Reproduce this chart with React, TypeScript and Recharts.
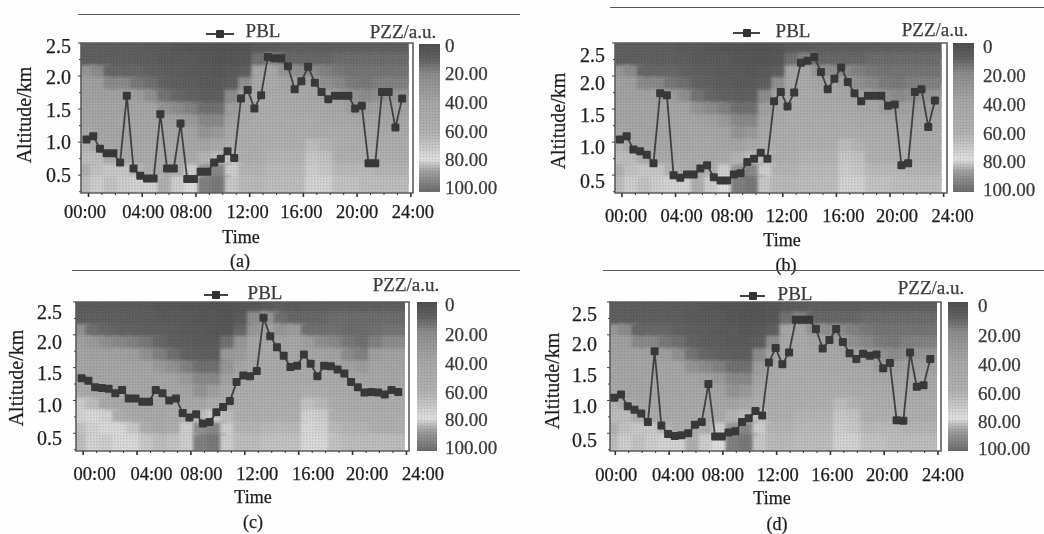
import { ComposedChart, Line, ReferenceArea, XAxis, YAxis } from "recharts";

const HOURS = [
  0, 0.5, 1, 1.5, 2, 2.5, 3, 3.5, 4, 4.5, 5, 5.5, 6, 6.5, 7, 7.5, 8, 8.5, 9, 9.5, 10, 10.5, 11, 11.5,
  12, 12.5, 13, 13.5, 14, 14.5, 15, 15.5, 16, 16.5, 17, 17.5, 18, 18.5, 19, 19.5, 20, 20.5, 21, 21.5, 22, 22.5, 23, 23.5,
];

const PBL_A = [
  1.04, 1.09, 0.9, 0.83, 0.83, 0.69, 1.7, 0.6, 0.49, 0.45, 0.45, 1.42, 0.6, 0.6, 1.28, 0.44, 0.44, 0.55, 0.55, 0.69, 0.75, 0.86, 0.76, 1.66,
  1.79, 1.51, 1.71, 2.29, 2.27, 2.27, 2.15, 1.8, 1.92, 2.14, 1.9, 1.76, 1.65, 1.7, 1.7, 1.7, 1.51, 1.55, 0.68, 0.68, 1.76, 1.76, 1.22, 1.66,
];
const PBL_B = [
  1.04, 1.09, 0.89, 0.86, 0.81, 0.68, 1.74, 1.71, 0.5, 0.46, 0.51, 0.51, 0.6, 0.65, 0.47, 0.42, 0.42, 0.51, 0.53, 0.7, 0.75, 0.84, 0.75, 1.62,
  1.76, 1.54, 1.75, 2.2, 2.23, 2.29, 2.06, 1.8, 1.96, 2.13, 1.91, 1.74, 1.62, 1.7, 1.7, 1.7, 1.55, 1.57, 0.65, 0.68, 1.76, 1.8, 1.23, 1.63,
];
const PBL_C = [
  1.34, 1.3, 1.2, 1.19, 1.18, 1.11, 1.16, 1.03, 1.03, 0.98, 0.98, 1.16, 1.11, 1.0, 1.03, 0.81, 0.74, 0.79, 0.65, 0.67, 0.82, 0.9, 0.99, 1.28,
  1.38, 1.37, 1.45, 2.26, 1.98, 1.81, 1.68, 1.51, 1.53, 1.7, 1.56, 1.37, 1.53, 1.52, 1.47, 1.41, 1.28, 1.2, 1.12, 1.13, 1.12, 1.09, 1.16, 1.13,
];
const PBL_D = [
  1.04, 1.09, 0.91, 0.86, 0.8, 0.67, 1.75, 0.62, 0.49, 0.46, 0.47, 0.5, 0.63, 0.67, 1.25, 0.45, 0.45, 0.51, 0.53, 0.67, 0.73, 0.84, 0.77, 1.58,
  1.8, 1.55, 1.73, 2.23, 2.23, 2.23, 2.09, 1.79, 1.92, 2.09, 1.89, 1.72, 1.63, 1.71, 1.68, 1.7, 1.49, 1.57, 0.7, 0.69, 1.73, 1.21, 1.23, 1.63,
];

// altitude edges of the heat rows, top row first
const ROW_EDGES = [2.5, 2.31, 2.12, 1.94, 1.75, 1.56, 1.37, 1.19, 1.0, 0.81, 0.62, 0.44, 0.23];

// PZZ values, one row per altitude band, one column per hour. a, b and d share the same field
const PZZ_ABD = [
  [9, 9, 9, 9, 9, 8, 7, 6, 5, 5, 4, 4, 5, 7, 8, 9, 9, 9, 9, 10, 10, 10, 10, 10],
  [10, 10, 10, 10, 10, 9, 8, 7, 7, 6, 5, 5, 6, 14, 18, 12, 12, 12, 12, 13, 13, 13, 13, 13],
  [30, 22, 12, 12, 12, 11, 10, 9, 8, 7, 6, 7, 10, 42, 45, 28, 24, 22, 18, 16, 15, 15, 15, 15],
  [38, 36, 20, 20, 16, 14, 11, 10, 9, 8, 7, 10, 24, 48, 50, 42, 40, 38, 26, 20, 17, 16, 18, 18],
  [38, 38, 38, 38, 36, 24, 15, 12, 11, 10, 10, 22, 40, 52, 52, 50, 48, 46, 40, 36, 28, 22, 26, 30],
  [40, 40, 40, 40, 40, 40, 28, 22, 18, 14, 14, 36, 46, 54, 54, 52, 52, 50, 48, 45, 36, 36, 38, 38],
  [42, 40, 40, 42, 42, 42, 40, 38, 32, 20, 20, 42, 50, 55, 56, 55, 55, 55, 52, 50, 48, 44, 44, 44],
  [48, 42, 42, 42, 44, 44, 44, 44, 40, 28, 32, 50, 55, 56, 58, 58, 58, 58, 56, 55, 54, 50, 50, 50],
  [62, 50, 46, 46, 46, 48, 48, 48, 44, 40, 50, 60, 56, 58, 60, 60, 60, 66, 62, 58, 56, 56, 56, 56],
  [66, 66, 58, 50, 50, 52, 52, 50, 52, 62, 66, 68, 58, 60, 62, 62, 62, 70, 68, 60, 60, 60, 60, 58],
  [60, 68, 70, 70, 62, 58, 52, 60, 72, 88, 92, 72, 62, 62, 64, 64, 64, 72, 70, 64, 64, 64, 62, 62],
  [66, 72, 68, 72, 74, 74, 60, 72, 78, 94, 96, 70, 64, 64, 66, 66, 66, 74, 74, 68, 68, 66, 66, 66],
];
const PZZ_C = [
  [8, 8, 8, 8, 7, 7, 6, 6, 5, 5, 4, 4, 5, 6, 8, 9, 8, 9, 9, 10, 10, 10, 10, 10],
  [10, 10, 10, 10, 9, 9, 8, 8, 7, 6, 6, 5, 7, 24, 28, 14, 12, 12, 12, 13, 13, 13, 13, 13],
  [26, 14, 12, 11, 11, 10, 10, 9, 8, 7, 6, 6, 12, 30, 40, 30, 34, 14, 14, 14, 13, 13, 14, 15],
  [38, 32, 24, 20, 18, 16, 12, 10, 9, 8, 7, 14, 30, 44, 46, 40, 42, 36, 24, 20, 16, 14, 18, 22],
  [40, 38, 38, 38, 36, 26, 18, 14, 11, 10, 10, 32, 34, 46, 48, 46, 46, 44, 40, 38, 22, 18, 36, 38],
  [40, 40, 40, 40, 40, 40, 32, 26, 18, 14, 14, 30, 42, 50, 50, 48, 48, 48, 46, 44, 38, 34, 40, 40],
  [42, 42, 42, 42, 42, 42, 42, 40, 32, 20, 20, 38, 48, 52, 52, 50, 50, 50, 50, 48, 46, 44, 44, 44],
  [52, 46, 44, 44, 44, 44, 44, 42, 40, 28, 36, 50, 54, 54, 54, 54, 54, 60, 56, 52, 50, 50, 50, 50],
  [72, 66, 50, 46, 46, 44, 46, 50, 48, 46, 56, 60, 56, 56, 58, 58, 58, 68, 64, 56, 54, 54, 54, 54],
  [74, 76, 74, 60, 50, 48, 48, 54, 60, 66, 72, 66, 58, 58, 60, 60, 60, 74, 72, 60, 58, 58, 58, 58],
  [68, 74, 76, 76, 70, 58, 50, 58, 72, 90, 92, 72, 62, 62, 64, 64, 64, 76, 74, 64, 62, 62, 60, 60],
  [66, 74, 72, 76, 76, 70, 66, 68, 80, 94, 96, 72, 66, 66, 68, 68, 68, 76, 76, 68, 66, 66, 66, 66],
];

const X_TICKS = [0, 1, 2, 3, 4, 5, 6, 7, 8, 9, 10, 11, 12, 13, 14, 15, 16, 17, 18, 19, 20, 21, 22, 23, 24];
const Y_TICKS = [0.25, 0.5, 0.75, 1, 1.25, 1.5, 1.75, 2, 2.25, 2.5];
const BAR_LABELS = ["0", "20.00", "40.00", "60.00", "80.00", "100.00"];

// colour bar stops: PZZ value, grey level
const BAR_VALUES = [0, 10, 20, 40, 60, 70, 78, 86, 100];
const BAR_GREYS = [78, 96, 138, 166, 176, 200, 222, 160, 106];

const INK = "#1c1c1c";
const SERIF = "'Liberation Serif', serif";

const greyFor = (v: number) => {
  let i = 0;
  while (i < BAR_VALUES.length - 2 && v > BAR_VALUES[i + 1]) i++;
  const t = (v - BAR_VALUES[i]) / (BAR_VALUES[i + 1] - BAR_VALUES[i]);
  const g = Math.round(BAR_GREYS[i] + t * (BAR_GREYS[i + 1] - BAR_GREYS[i]));
  return `rgb(${g},${g},${g})`;
};

const barGradient = `linear-gradient(to bottom, ${BAR_VALUES.map((v, i) => `rgb(${BAR_GREYS[i]},${BAR_GREYS[i]},${BAR_GREYS[i]}) ${v}%`).join(", ")})`;
const barDots = "radial-gradient(rgba(0,0,0,0.14) 0.8px, transparent 1px)";

const PANELS = [
  {
    id: "a", pbl: PBL_A, pzz: PZZ_ABD, plot: [81, 43, 413, 193], domain: [-0.41, 24.31], tickShift: 2,
    xNudge: [-1.5, 3, -3, 0, 0, 2, 4], yNudge: [0, 0, 1, 1, 3], yGap: 10, xLabelY: 212,
    rule: [78, 14, 520], time: [241, 237], tag: [240, 261], alt: [24, 115],
    legend: [206, 234, 34], pbl_text: [263, 30], unit: [403, 31], bar: [419, 44, 440, 192], barX: 445,
    barY: [45, 73, 102, 131, 159, 187],
  },
  {
    id: "b", pbl: PBL_B, pzz: PZZ_ABD, plot: [615, 43, 947, 193], domain: [-0.37, 24.4], tickShift: 2,
    xNudge: [6, 8, 5, 6, 9, 9, 11], yNudge: [6, 5, 6, 7, 12], yGap: 10, xLabelY: 216,
    rule: [610, 7, 1044], time: [782, 240], tag: [786, 265], alt: [558, 121],
    legend: [733, 760, 33], pbl_text: [793, 30], unit: [935, 29], bar: [953, 43, 974, 192], barX: 983,
    barY: [46, 75, 104, 133, 161, 189],
  },
  {
    id: "c", pbl: PBL_C, pzz: PZZ_C, plot: [76, 302, 409, 451], domain: [-0.42, 24.3], tickShift: 1.5,
    xNudge: [13, 16, 12, 14, 16, 16, 18], yNudge: [5, 5, 6, 7, 10], yGap: 14, xLabelY: 474,
    rule: [72, 270, 520], time: [253, 497], tag: [253, 522], alt: [16, 378],
    legend: [204, 228, 295], pbl_text: [265, 292], unit: [406, 284], bar: [417, 302, 437, 451], barX: 445,
    barY: [304, 334, 363, 392, 419, 447],
  },
  {
    id: "d", pbl: PBL_D, pzz: PZZ_ABD, plot: [610, 302, 941, 451], domain: [-0.32, 24.3], tickShift: 1,
    xNudge: [2, 5, 1, 2, 3, 4, 6], yNudge: [7, 6, 8, 9, 12], yGap: 13, xLabelY: 475,
    rule: [603, 270, 1044], time: [772, 498], tag: [777, 524], alt: [552, 381],
    legend: [740, 765, 296], pbl_text: [795, 293], unit: [931, 287], bar: [948, 302, 968, 451], barX: 978,
    barY: [305, 335, 364, 393, 421, 448],
  },
];

function Txt({ x, y, size = 19, color = INK, rotate = false, anchor = "center", children }: any) {
  const tx = anchor === "left" ? "0" : "-50%";
  return (
    <div
      style={{
        position: "absolute",
        left: x,
        top: y,
        fontFamily: SERIF,
        fontSize: size,
        lineHeight: 1,
        color,
        whiteSpace: "nowrap",
        WebkitTextStroke: "0.25px currentColor",
        transform: `translate(${tx}, -50%)${rotate ? " rotate(-90deg)" : ""}`,
      }}
    >
      {children}
    </div>
  );
}

function XTick({ x, y, payload, panel }: any) {
  const h = payload.value;
  const major = h % 4 === 0;
  const px = x + panel.tickShift;
  return (
    <g>
      <line x1={px} x2={px} y1={y} y2={y + (major ? 4 : 2)} stroke="#333" strokeWidth={major ? 1.6 : 1} />
      {major && (
        <text
          x={x + panel.xNudge[h / 4]}
          y={y + panel.xLabelY - panel.plot[3]}
          dy="0.34em"
          textAnchor="middle"
          fontFamily={SERIF}
          fontSize={18.5}
          fill={INK}
          stroke={INK}
          strokeWidth={0.25}
        >
          {`${String(h).padStart(2, "0")}:00`}
        </text>
      )}
    </g>
  );
}

function YTick({ x, y, payload, panel }: any) {
  const v = payload.value;
  const major = v % 0.5 === 0;
  const i = v / 0.5 - 1;
  return (
    <g>
      <line x1={x - (major ? 3 : 2)} x2={x} y1={y} y2={y} stroke="#444" strokeWidth={1} />
      {major && (
        <text
          x={x - panel.yGap}
          y={y + panel.yNudge[i]}
          dy="0.34em"
          textAnchor="end"
          fontFamily={SERIF}
          fontSize={20}
          fill={INK}
          stroke={INK}
          strokeWidth={0.25}
        >
          {v.toFixed(1)}
        </text>
      )}
    </g>
  );
}

const squareDot = (p: any) => (
  <rect key={p.index} x={p.cx - 4} y={p.cy - 4} width={8} height={8} rx={1} fill="#383838" />
);

// heat cell: grown a little and blurred so neighbours melt into each other, clipped to the plot
const softCell = (id: string) => (p: any) => (
  <g clipPath={`url(#clip-${id})`}>
    <rect
      x={p.x - 3}
      y={p.y - 3}
      width={p.width + 6}
      height={p.height + 6}
      fill={p.fill}
      filter={`url(#soft-${id})`}
    />
  </g>
);

const LEFT = 70;
const TOP = 14;

function Panel({ panel }: any) {
  const [x0, y0, x1, y1] = panel.plot;
  const [d0, d1] = panel.domain;
  const data = HOURS.map((hour, i) => ({ hour, pbl: panel.pbl[i] }));
  const plotW = x1 - x0;
  const plotH = y1 - y0;
  // the white strip at the right of each plot starts at 24:00
  const heatW = ((24 - d0) / (d1 - d0)) * plotW;
  const cell = softCell(panel.id);
  return (
    <>
      <div style={{ position: "absolute", left: panel.rule[0], top: panel.rule[1], width: panel.rule[2] - panel.rule[0], height: 1, background: "#555" }} />
      <div style={{ position: "absolute", left: x0 - LEFT, top: y0 - TOP }}>
        <ComposedChart
          width={plotW + LEFT + 40}
          height={plotH + TOP + 44}
          data={data}
          margin={{ left: LEFT - 40, top: TOP, right: 40, bottom: 0 }}
        >
          <defs>
            <filter id={`soft-${panel.id}`} x="-40%" y="-40%" width="180%" height="180%">
              <feGaussianBlur stdDeviation="1.6" />
            </filter>
            <clipPath id={`clip-${panel.id}`}>
              <rect x={LEFT} y={TOP} width={heatW} height={plotH} />
            </clipPath>
            <pattern id={`dots-${panel.id}`} width="3" height="3" patternUnits="userSpaceOnUse">
              <rect width="1.5" height="1.5" fill="#000" fillOpacity="0.1" />
            </pattern>
          </defs>
          <XAxis
            dataKey="hour"
            type="number"
            domain={panel.domain}
            ticks={X_TICKS}
            allowDataOverflow
            interval={0}
            height={44}
            axisLine={false}
            tickLine={false}
            tickSize={0}
            tickMargin={0}
            tick={(p: any) => <XTick {...p} panel={panel} />}
          />
          <YAxis
            type="number"
            domain={[0.23, 2.5]}
            ticks={Y_TICKS}
            allowDataOverflow
            interval={0}
            width={40}
            axisLine={false}
            tickLine={false}
            tickSize={0}
            tickMargin={0}
            tick={(p: any) => <YTick {...p} panel={panel} />}
          />
          {panel.pzz.map((row: number[], r: number) =>
            row.map((v, c) => (
              <ReferenceArea
                key={`${r}-${c}`}
                x1={Math.max(c - 0.5, d0)}
                x2={c === 23 ? 24 : c + 0.5}
                y1={ROW_EDGES[r + 1]}
                y2={ROW_EDGES[r]}
                fill={greyFor(v)}
                fillOpacity={1}
                shape={cell}
              />
            )),
          )}
          <ReferenceArea x1={d0} x2={24} y1={0.23} y2={2.5} fill={`url(#dots-${panel.id})`} fillOpacity={1} />
          <ReferenceArea x1={d0} x2={d1} y1={0.23} y2={2.5} fill="none" stroke="#5c5c5c" strokeWidth={1.6} />
          <Line
            dataKey="pbl"
            stroke="#404040"
            strokeWidth={1.8}
            dot={squareDot}
            activeDot={false}
            isAnimationActive={false}
          />
        </ComposedChart>
      </div>

      <Txt x={panel.alt[0]} y={panel.alt[1]} size={20} rotate>Altitude/km</Txt>
      <Txt x={panel.time[0]} y={panel.time[1]} size={18}>Time</Txt>
      <Txt x={panel.tag[0]} y={panel.tag[1]} size={18}>({panel.id})</Txt>

      <div style={{ position: "absolute", left: panel.legend[0], top: panel.legend[2] - 1, width: panel.legend[1] - panel.legend[0], height: 2, background: "#444" }} />
      <div style={{ position: "absolute", left: (panel.legend[0] + panel.legend[1]) / 2 - 4, top: panel.legend[2] - 4, width: 8, height: 8, borderRadius: 1, background: "#333" }} />
      <Txt x={panel.pbl_text[0]} y={panel.pbl_text[1]} color="#3c3c3c">PBL</Txt>
      <Txt x={panel.unit[0]} y={panel.unit[1]} color="#3c3c3c">PZZ/a.u.</Txt>

      <div
        style={{
          position: "absolute",
          left: panel.bar[0],
          top: panel.bar[1],
          width: panel.bar[2] - panel.bar[0],
          height: panel.bar[3] - panel.bar[1],
          backgroundImage: `${barDots}, ${barGradient}`,
          backgroundSize: "3px 3px, 100% 100%",
        }}
      />
      {BAR_LABELS.map((t, i) => (
        <Txt key={t} x={panel.barX} y={panel.barY[i]} anchor="left" color="#3a3a3a">{t}</Txt>
      ))}
    </>
  );
}

export default function App() {
  return (
    <div
      style={{
        position: "absolute",
        left: 0,
        top: 0,
        width: 1044,
        height: 534,
        overflow: "hidden",
        background: "#fefefe",
        filter: "blur(0.45px)",
      }}
    >
      {PANELS.map((p) => (
        <Panel key={p.id} panel={p} />
      ))}
    </div>
  );
}
